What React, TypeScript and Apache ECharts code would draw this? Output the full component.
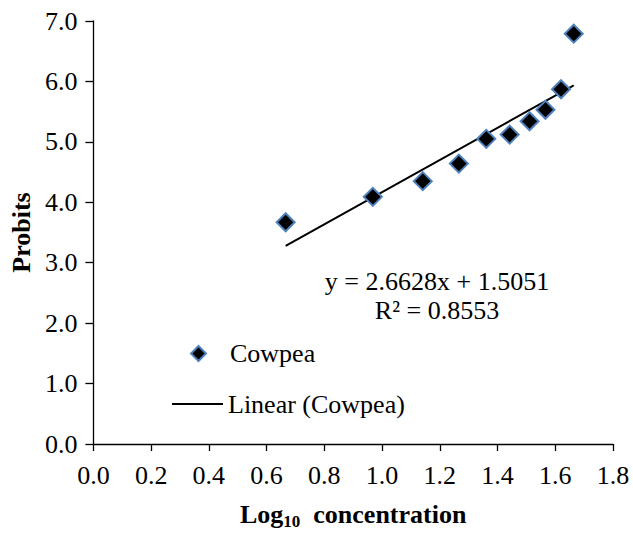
import React, { useEffect, useRef } from "react";
import * as echarts from "echarts";

const xValues = [0.666, 0.968, 1.141, 1.266, 1.361, 1.442, 1.511, 1.566, 1.62, 1.664];
const yValues = [3.67, 4.09, 4.35, 4.64, 5.05, 5.12, 5.34, 5.53, 5.87, 6.79];
const trendX = [0.666, 1.664];
const trendY = [3.278, 5.936];
const equationText = "y = 2.6628x + 1.5051";
const r2Text = "R² = 0.8553";
const seriesName = "Cowpea";
const trendName = "Linear (Cowpea)";

const FONT = "'Liberation Serif', 'Times New Roman', serif";

export default function App() {
  const ref = useRef<HTMLDivElement>(null);
  useEffect(() => {
    if (!ref.current) return;
    const chart = echarts.init(ref.current, undefined, { renderer: "svg" });
    const points = xValues.map((x, i) => [x, yValues[i]]);
    const trend = trendX.map((x, i) => [x, trendY[i]]);
    chart.setOption({
      animation: false,
      backgroundColor: "#ffffff",
      textStyle: { fontFamily: FONT, color: "#000" },
      grid: { left: 93, right: 20, top: 21, bottom: 86 },
      xAxis: {
        type: "value",
        min: 0,
        max: 1.8,
        interval: 0.2,
        name: "{a|Log}{b|10}{a|  concentration}",
        nameLocation: "middle",
        nameGap: 55,
        nameTextStyle: {
          rich: {
            a: { fontSize: 26, fontWeight: "bold", fontFamily: FONT, color: "#000" },
            b: { fontSize: 17, fontWeight: "bold", fontFamily: FONT, color: "#000", padding: [14, 0, 0, 0] },
          },
        },
        axisLine: { show: true, onZero: false, lineStyle: { color: "#000", width: 1.3 } },
        axisTick: { show: true, inside: false, length: 7, lineStyle: { color: "#000", width: 1.3 } },
        axisLabel: {
          fontSize: 26,
          fontFamily: FONT,
          color: "#000",
          margin: 18,
          formatter: (v: number) => v.toFixed(1),
        },
        splitLine: { show: false },
      },
      yAxis: {
        type: "value",
        min: 0,
        max: 7,
        interval: 1,
        name: "Probits",
        nameLocation: "middle",
        nameGap: 58,
        nameTextStyle: { fontSize: 26, fontWeight: "bold", fontFamily: FONT, color: "#000" },
        axisLine: { show: true, onZero: false, lineStyle: { color: "#000", width: 1.3 } },
        axisTick: { show: true, inside: false, length: 8, lineStyle: { color: "#000", width: 1.3 } },
        axisLabel: {
          fontSize: 26,
          fontFamily: FONT,
          color: "#000",
          margin: 16,
          formatter: (v: number) => v.toFixed(1),
        },
        splitLine: { show: false },
      },
      legend: [
        {
          data: [{ name: seriesName, icon: "diamond" }],
          left: 190,
          top: 340.5,
          padding: 0,
          itemWidth: 15,
          itemHeight: 15,
          itemGap: 0,
          textStyle: { fontSize: 26, fontFamily: FONT, color: "#000", lineHeight: 15, padding: [0, 0, 0, 19] },
        },
        {
          data: [{ name: trendName, icon: "rect" }],
          left: 172,
          top: 391,
          padding: 0,
          itemWidth: 51,
          itemHeight: 2,
          itemGap: 0,
          textStyle: { fontSize: 26, fontFamily: FONT, color: "#000", lineHeight: 2 },
        },
      ],
      graphic: [
        {
          type: "text",
          x: 437,
          y: 281,
          style: {
            text: equationText,
            fontSize: 26,
            fontFamily: FONT,
            fill: "#000",
            textAlign: "center",
            textVerticalAlign: "middle",
          },
        },
        {
          type: "text",
          x: 437,
          y: 310,
          style: {
            text: r2Text,
            fontSize: 26,
            fontFamily: FONT,
            fill: "#000",
            textAlign: "center",
            textVerticalAlign: "middle",
          },
        },
      ],
      series: [
        {
          name: trendName,
          type: "line",
          data: trend,
          symbol: "none",
          showSymbol: false,
          lineStyle: { color: "#000", width: 2 },
          itemStyle: { color: "#000" },
          z: 2,
        },
        {
          name: seriesName,
          type: "scatter",
          data: points,
          symbol: "diamond",
          symbolSize: 18,
          itemStyle: { color: "#000", borderColor: "#4F81BD", borderWidth: 2, opacity: 1 },
          z: 3,
        },
      ],
    });
    return () => chart.dispose();
  }, []);
  return (
    <div
      ref={ref}
      style={{ position: "fixed", left: 0, top: 0, width: 633, height: 535, background: "#fff" }}
    />
  );
}
